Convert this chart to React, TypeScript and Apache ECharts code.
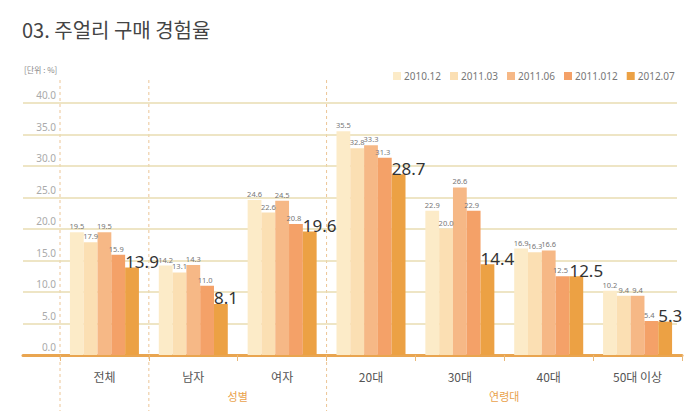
import React, { useEffect, useRef } from 'react';
import * as echarts from 'echarts';

const categories = ['전체', '남자', '여자', '20대', '30대', '40대', '50대 이상'];
const seriesNames = ['2010.12', '2011.03', '2011.06', '2011.012', '2012.07'];
const s201012 = [19.5, 14.2, 24.6, 35.5, 22.9, 16.9, 10.2];
const s201103 = [17.9, 13.1, 22.6, 32.8, 20.0, 16.3, 9.4];
const s201106 = [19.5, 14.3, 24.5, 33.3, 26.6, 16.6, 9.4];
const s201112 = [15.9, 11.0, 20.8, 31.3, 22.9, 12.5, 5.4];
const s201207 = [13.9, 8.1, 19.6, 28.7, 14.4, 12.5, 5.3];
const yTicks = [0, 5, 10, 15, 20, 25, 30, 35, 40];
const groups = [
  { name: '성별', from: 1, to: 3 },
  { name: '연령대', from: 3, to: 7 },
];
const separators = [0, 1, 3];

const colors = ['#fcebc8', '#fbdfb3', '#f6b886', '#f4a168', '#eca144'];

const W = 699;
const H = 411;
const LEFT = 60;
const RIGHT = 17;
const TOP = 103;
const BOTTOM = 56;

const App: React.FC = () => {
  const chartRef = useRef<HTMLDivElement>(null);

  useEffect(() => {
    document.body.style.margin = '0';
    const chart = echarts.init(chartRef.current as HTMLDivElement, undefined, { renderer: 'svg' });
    const data = [s201012, s201103, s201106, s201112, s201207];
    const plotW = W - LEFT - RIGHT;
    const bx = (i: number) => LEFT + (plotW * i) / categories.length;

    const series: any[] = data.map((vals, i) => {
      const last = i === data.length - 1;
      return {
        name: seriesNames[i],
        type: 'bar',
        xAxisIndex: 0,
        yAxisIndex: 0,
        data: vals,
        barWidth: 13.8,
        barGap: '0%',
        itemStyle: { color: colors[i] },
        label: last
          ? {
              show: true,
              position: [0, -6],
              align: 'left',
              verticalAlign: 'middle',
              fontSize: 17,
              color: '#333',
              fontFamily: 'Noto Sans',
              formatter: (p: any) => p.value.toFixed(1),
            }
          : {
              show: true,
              position: 'top',
              distance: 2,
              offset: i === 3 ? [-2, 0] : [0, 0],
              fontSize: 7.5,
              color: '#777',
              fontFamily: 'Noto Sans',
              formatter: (p: any) => p.value.toFixed(1),
            },
      };
    });

    const graphic: any[] = [
      {
        type: 'text',
        left: 22,
        top: 19,
        style: { text: '03. 주얼리 구매 경험율', fontSize: 20, fill: '#444', fontFamily: 'Noto Sans CJK KR' },
      },
      {
        type: 'text',
        left: 24,
        top: 65,
        style: { text: '[단위 : %]', fontSize: 8, fill: '#888', fontFamily: 'Noto Sans CJK KR' },
      },
    ];
    separators.forEach((b) => {
      graphic.push({
        type: 'line',
        shape: { x1: bx(b), y1: 80, x2: bx(b), y2: H },
        style: { stroke: '#ecc596', lineWidth: 1, lineDash: [3, 3] },
        z: 0,
      });
    });
    groups.forEach((g) => {
      graphic.push({
        type: 'text',
        x: (bx(g.from) + bx(g.to)) / 2,
        y: 396,
        style: {
          text: g.name,
          fontSize: 11,
          fill: '#e9a24c',
          align: 'center',
          verticalAlign: 'middle',
          fontFamily: 'Noto Sans CJK KR',
        },
      });
    });

    const option = {
      animation: false,
      legend: {
        data: seriesNames,
        left: 388,
        top: 66,
        itemWidth: 8,
        itemHeight: 8,
        itemGap: 9,
        icon: 'rect',
        textStyle: { fontSize: 10, color: '#777', fontFamily: 'Noto Sans', padding: [0, 0, 0, -2] },
      },
      grid: [
        { left: LEFT, right: RIGHT, top: TOP, bottom: BOTTOM },
        { left: 23, right: 22, top: TOP, bottom: BOTTOM },
      ],
      xAxis: [
        {
          type: 'category',
          gridIndex: 0,
          data: categories,
          axisLine: { lineStyle: { color: '#e9a550', width: 3 } },
          axisTick: { show: true, length: 6, lineStyle: { color: '#e9b878' } },
          axisLabel: { fontSize: 12, color: '#555', margin: 15, fontFamily: 'Noto Sans CJK KR' },
        },
        {
          type: 'value',
          gridIndex: 1,
          min: 0,
          max: 1,
          axisLine: { show: true, lineStyle: { color: '#e9a550', width: 3 } },
          axisTick: { show: false },
          axisLabel: { show: false },
          splitLine: { show: false },
        },
      ],
      yAxis: [
        {
          type: 'value',
          gridIndex: 0,
          min: yTicks[0],
          max: yTicks[yTicks.length - 1],
          interval: 5,
          show: false,
        },
        {
          type: 'value',
          gridIndex: 1,
          min: yTicks[0],
          max: yTicks[yTicks.length - 1],
          interval: 5,
          axisLine: { show: false },
          axisTick: { show: false },
          axisLabel: {
            margin: -33,
            fontSize: 10,
            color: '#aaa',
            verticalAlign: 'bottom',
            padding: [0, 0, 3, 0],
            fontFamily: 'Noto Sans',
            formatter: (v: number) => v.toFixed(1),
          },
          splitLine: { lineStyle: { color: '#e8dcb2', width: 1.5 } },
        },
      ],
      graphic,
      series,
    };

    chart.setOption(option);

    return () => {
      chart.dispose();
    };
  }, []);

  return <div ref={chartRef} style={{ width: W + 'px', height: H + 'px' }}></div>;
};

export default App;
